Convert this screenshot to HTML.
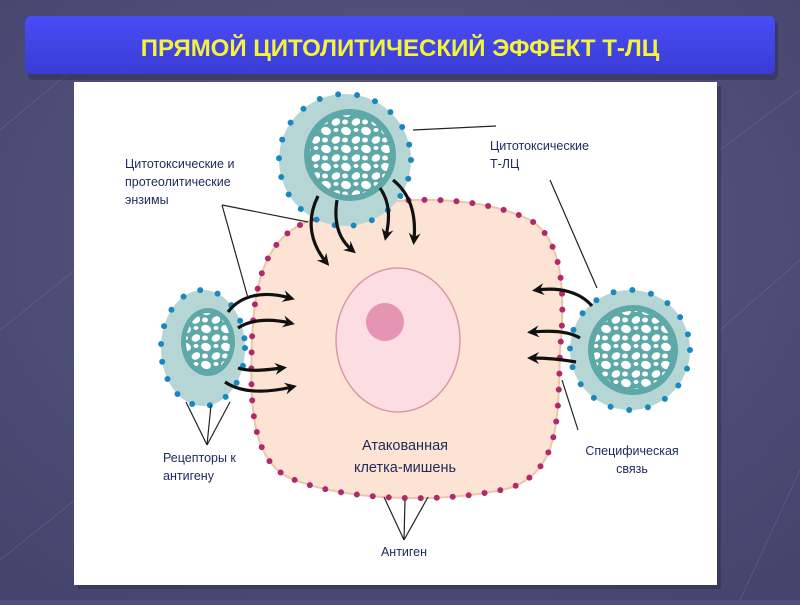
<!DOCTYPE html>
<html><head><meta charset="utf-8"><style>
html,body{margin:0;padding:0;}
body{width:800px;height:600px;overflow:hidden;background:#4e4f78;font-family:"Liberation Sans",sans-serif;}
</style></head><body>
<svg width="800" height="600" viewBox="0 0 800 600" xmlns="http://www.w3.org/2000/svg">
<defs>
<radialGradient id="bg" cx="0.5" cy="0.4" r="0.8"><stop offset="0" stop-color="#5a5c88"/><stop offset="1" stop-color="#42426a"/></radialGradient>
<linearGradient id="ban" x1="0" y1="0" x2="0" y2="1"><stop offset="0" stop-color="#4a4cf6"/><stop offset="1" stop-color="#3a3cd4"/></linearGradient>
<pattern id="blobs" width="20" height="18" patternUnits="userSpaceOnUse">
<ellipse cx="6" cy="5" rx="5" ry="4" fill="#fff" transform="rotate(20 6 5)"/>
<ellipse cx="16" cy="14" rx="4.5" ry="3.5" fill="#fff" transform="rotate(-25 16 14)"/>
<ellipse cx="16" cy="4" rx="2.5" ry="2" fill="#fff"/>
<ellipse cx="5" cy="14" rx="3" ry="2.5" fill="#fff"/>
</pattern>
<marker id="ah" markerWidth="12" markerHeight="12" refX="7" refY="6" orient="auto" markerUnits="userSpaceOnUse"><path d="M0,0 L12,6 L0,12 L4,6 Z" fill="#111"/></marker>
</defs>
<rect width="800" height="600" fill="url(#bg)"/>
<g stroke="#6a6c98" stroke-width="1" opacity="0.5">
<line x1="0" y1="130" x2="120" y2="30"/><line x1="0" y1="330" x2="75" y2="270"/><line x1="0" y1="560" x2="75" y2="500"/>
<line x1="720" y1="330" x2="800" y2="260"/><line x1="740" y1="600" x2="800" y2="470"/><line x1="720" y1="150" x2="800" y2="90"/>
</g>
<rect x="28" y="20" width="750" height="60" rx="6" fill="#2a2a50" opacity="0.5"/>
<rect x="25" y="16" width="750" height="58" rx="6" fill="url(#ban)"/>
<text x="400" y="56" text-anchor="middle" font-size="24" font-weight="bold" fill="#f4f43a">ПРЯМОЙ ЦИТОЛИТИЧЕСКИЙ ЭФФЕКТ Т-ЛЦ</text>
<rect x="78" y="86" width="643" height="503" fill="#2e2e50" opacity="0.5"/>
<rect x="74" y="82" width="643" height="503" fill="#fff"/>

<path d="M300,225 C360,195 470,190 530,220 C565,240 565,300 560,350 C558,420 560,470 510,488 C440,505 340,500 290,478 C250,460 250,400 252,340 C254,290 262,245 300,225 Z" fill="#fde3d3" stroke="#e8c8a8" stroke-width="2"/>
<path d="M300,225 C360,195 470,190 530,220 C565,240 565,300 560,350 C558,420 560,470 510,488 C440,505 340,500 290,478 C250,460 250,400 252,340 C254,290 262,245 300,225 Z" fill="none" stroke="#b0286e" stroke-width="6" stroke-dasharray="0 16" stroke-linecap="round"/>
<ellipse cx="398" cy="340" rx="62" ry="72" fill="#fbdde2" stroke="#d89aa8" stroke-width="1.5"/>
<circle cx="385" cy="322" r="19" fill="#e594b2"/>

<circle cx="345" cy="160" r="66" fill="#b6d6d6"/>
<circle cx="345" cy="160" r="66" fill="none" stroke="#1a88c0" stroke-width="6" stroke-dasharray="0 19" stroke-linecap="round"/>
<circle cx="350" cy="155" r="46" fill="#5fa8a8"/>
<circle cx="350" cy="155" r="40" fill="url(#blobs)"/>
<ellipse cx="203" cy="348" rx="42" ry="58" fill="#b6d6d6"/>
<ellipse cx="203" cy="348" rx="42" ry="58" fill="none" stroke="#1a88c0" stroke-width="6" stroke-dasharray="0 18" stroke-linecap="round"/>
<ellipse cx="208" cy="342" rx="27" ry="34" fill="#5fa8a8"/>
<ellipse cx="208" cy="342" rx="22" ry="29" fill="url(#blobs)"/>
<ellipse cx="630" cy="350" rx="60" ry="60" fill="#b6d6d6"/>
<ellipse cx="630" cy="350" rx="60" ry="60" fill="none" stroke="#1a88c0" stroke-width="6" stroke-dasharray="0 19" stroke-linecap="round"/>
<circle cx="633" cy="350" r="45" fill="#5fa8a8"/>
<circle cx="633" cy="350" r="39" fill="url(#blobs)"/>

<g fill="none" stroke="#111" stroke-width="3.2" marker-end="url(#ah)">
<path d="M318,196 C305,222 312,245 326,262"/>
<path d="M337,200 C333,225 340,240 352,250"/>
<path d="M380,188 C390,202 390,218 386,236"/>
<path d="M393,180 C412,195 416,218 414,240"/>
<path d="M228,312 C240,296 262,290 290,298"/>
<path d="M238,328 C250,320 268,318 290,323"/>
<path d="M238,368 C250,372 266,370 282,368"/>
<path d="M225,382 C240,392 262,394 292,387"/>
<path d="M592,306 C580,292 560,287 537,290"/>
<path d="M580,338 C570,332 554,330 532,332"/>
<path d="M576,362 C565,360 550,358 532,358"/>
</g>

<g stroke="#222" stroke-width="1.2" fill="none">
<line x1="222" y1="205" x2="308" y2="222"/><line x1="222" y1="205" x2="248" y2="298"/>
<line x1="413" y1="130" x2="496" y2="126"/>
<line x1="550" y1="180" x2="597" y2="288"/>
<line x1="207" y1="445" x2="186" y2="402"/><line x1="207" y1="445" x2="211" y2="405"/><line x1="207" y1="445" x2="230" y2="402"/>
<line x1="578" y1="430" x2="562" y2="380"/>
<line x1="404" y1="540" x2="384" y2="497"/><line x1="404" y1="540" x2="405" y2="500"/><line x1="404" y1="540" x2="428" y2="497"/>
</g>

<g fill="#1c2a5c" font-size="12.5">
<text x="125" y="168">Цитотоксические и</text>
<text x="125" y="186">протеолитические</text>
<text x="125" y="204">энзимы</text>
<text x="490" y="150">Цитотоксические</text>
<text x="490" y="168">Т-ЛЦ</text>
<text x="163" y="462">Рецепторы к</text>
<text x="163" y="480">антигену</text>
<text x="632" y="455" text-anchor="middle">Специфическая</text>
<text x="632" y="473" text-anchor="middle">связь</text>
<text x="404" y="556" text-anchor="middle">Антиген</text>
<text x="405" y="450" text-anchor="middle" font-size="14.5">Атакованная</text>
<text x="405" y="472" text-anchor="middle" font-size="14.5">клетка-мишень</text>
</g>
</svg>
</body></html>
